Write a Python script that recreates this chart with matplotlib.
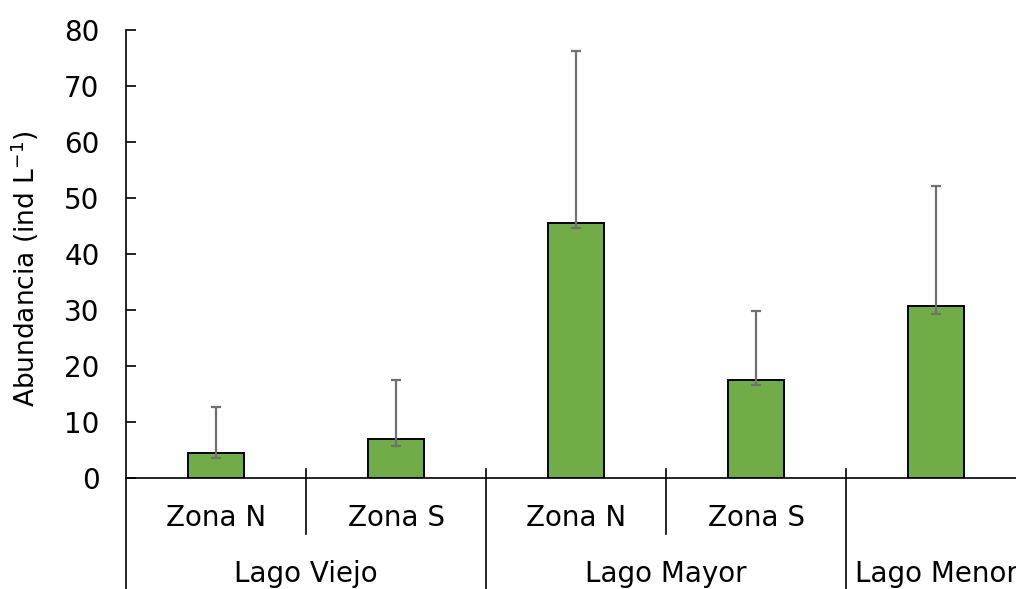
import matplotlib
matplotlib.use("Agg")
import matplotlib.pyplot as plt
from matplotlib.transforms import blended_transform_factory
from matplotlib.lines import Line2D

plt.rcParams['font.family'] = ['DejaVu Sans']
plt.rcParams['mathtext.default'] = 'regular'

# Abundance per zone (ind L-1) with asymmetric error limits
zones = ["Zona N", "Zona S", "Zona N", "Zona S", ""]
lakes = ["Lago Viejo", "Lago Mayor", "Lago Menor"]
lake_sizes = [2, 2, 1]
abundance = [4.4, 7.0, 45.5, 17.5, 30.7]
err_low = [3.5, 5.7, 44.6, 16.6, 29.3]
err_high = [12.7, 17.5, 76.2, 29.8, 52.1]

W, H = 1016, 589
fig = plt.figure(figsize=(W / 100, H / 100), dpi=100)
x0, y0, slot, ph = 126, 478, 180, 448
ax = fig.add_axes([x0 / W, (H - y0) / H, slot * len(abundance) / W, ph / H])

xs = list(range(len(abundance)))
ax.bar(xs, abundance, width=0.316, color="#70AD47", edgecolor="black",
       linewidth=1.4, zorder=2)
yerr = [[a - l for a, l in zip(abundance, err_low)],
        [h - a for a, h in zip(abundance, err_high)]]
ax.errorbar(xs, abundance, yerr=yerr, fmt="none", ecolor="#707070",
            elinewidth=1.6, capsize=3.4, capthick=1.6, zorder=3)

FS = 20
ax.set_xlim(-0.5, len(abundance) - 0.5)
ax.set_ylim(0, 80)
ax.set_yticks(range(0, 81, 10))
ax.tick_params(axis="y", direction="in", length=7, width=1.2, pad=19,
               labelsize=FS)
ax.set_xticks([])
for s in ("top", "right"):
    ax.spines[s].set_visible(False)
ax.spines["left"].set_linewidth(1.2)
ax.spines["bottom"].set_linewidth(1.2)

ax.set_ylabel("Abundancia (ind L$^{-1}$)", fontsize=19)
ax.yaxis.set_label_coords(41 / W, (H - 269) / H, transform=fig.transFigure)

trans = blended_transform_factory(ax.transData, ax.transAxes)

def fy(px):
    return (y0 - px) / ph

# Left axis continues down through the category area
ax.add_line(Line2D([-0.5, -0.5], [0, fy(H + 5)], transform=trans,
                   color="black", lw=1.2, clip_on=False))

# Zone labels and separators
for i, z in enumerate(zones):
    if z:
        ax.text(i, fy(525.5), z, transform=trans, ha="center", va="baseline",
                fontsize=FS)
pos = 0
bounds = []
for n in lake_sizes:
    bounds.append((pos, pos + n))
    pos += n
for start, end in bounds:
    for k in range(start + 1, end):
        ax.add_line(Line2D([k - 0.5, k - 0.5], [fy(469), fy(534)],
                           transform=trans, color="black", lw=1.2,
                           clip_on=False))
    if end < len(abundance):
        ax.add_line(Line2D([end - 0.5, end - 0.5], [fy(469), fy(H + 5)],
                           transform=trans, color="black", lw=1.2,
                           clip_on=False))

for (start, end), name in zip(bounds, lakes):
    ax.text((start + end - 1) / 2, fy(582), name, transform=trans,
            ha="center", va="baseline", fontsize=FS)

fig.savefig("out.png", dpi=100)
